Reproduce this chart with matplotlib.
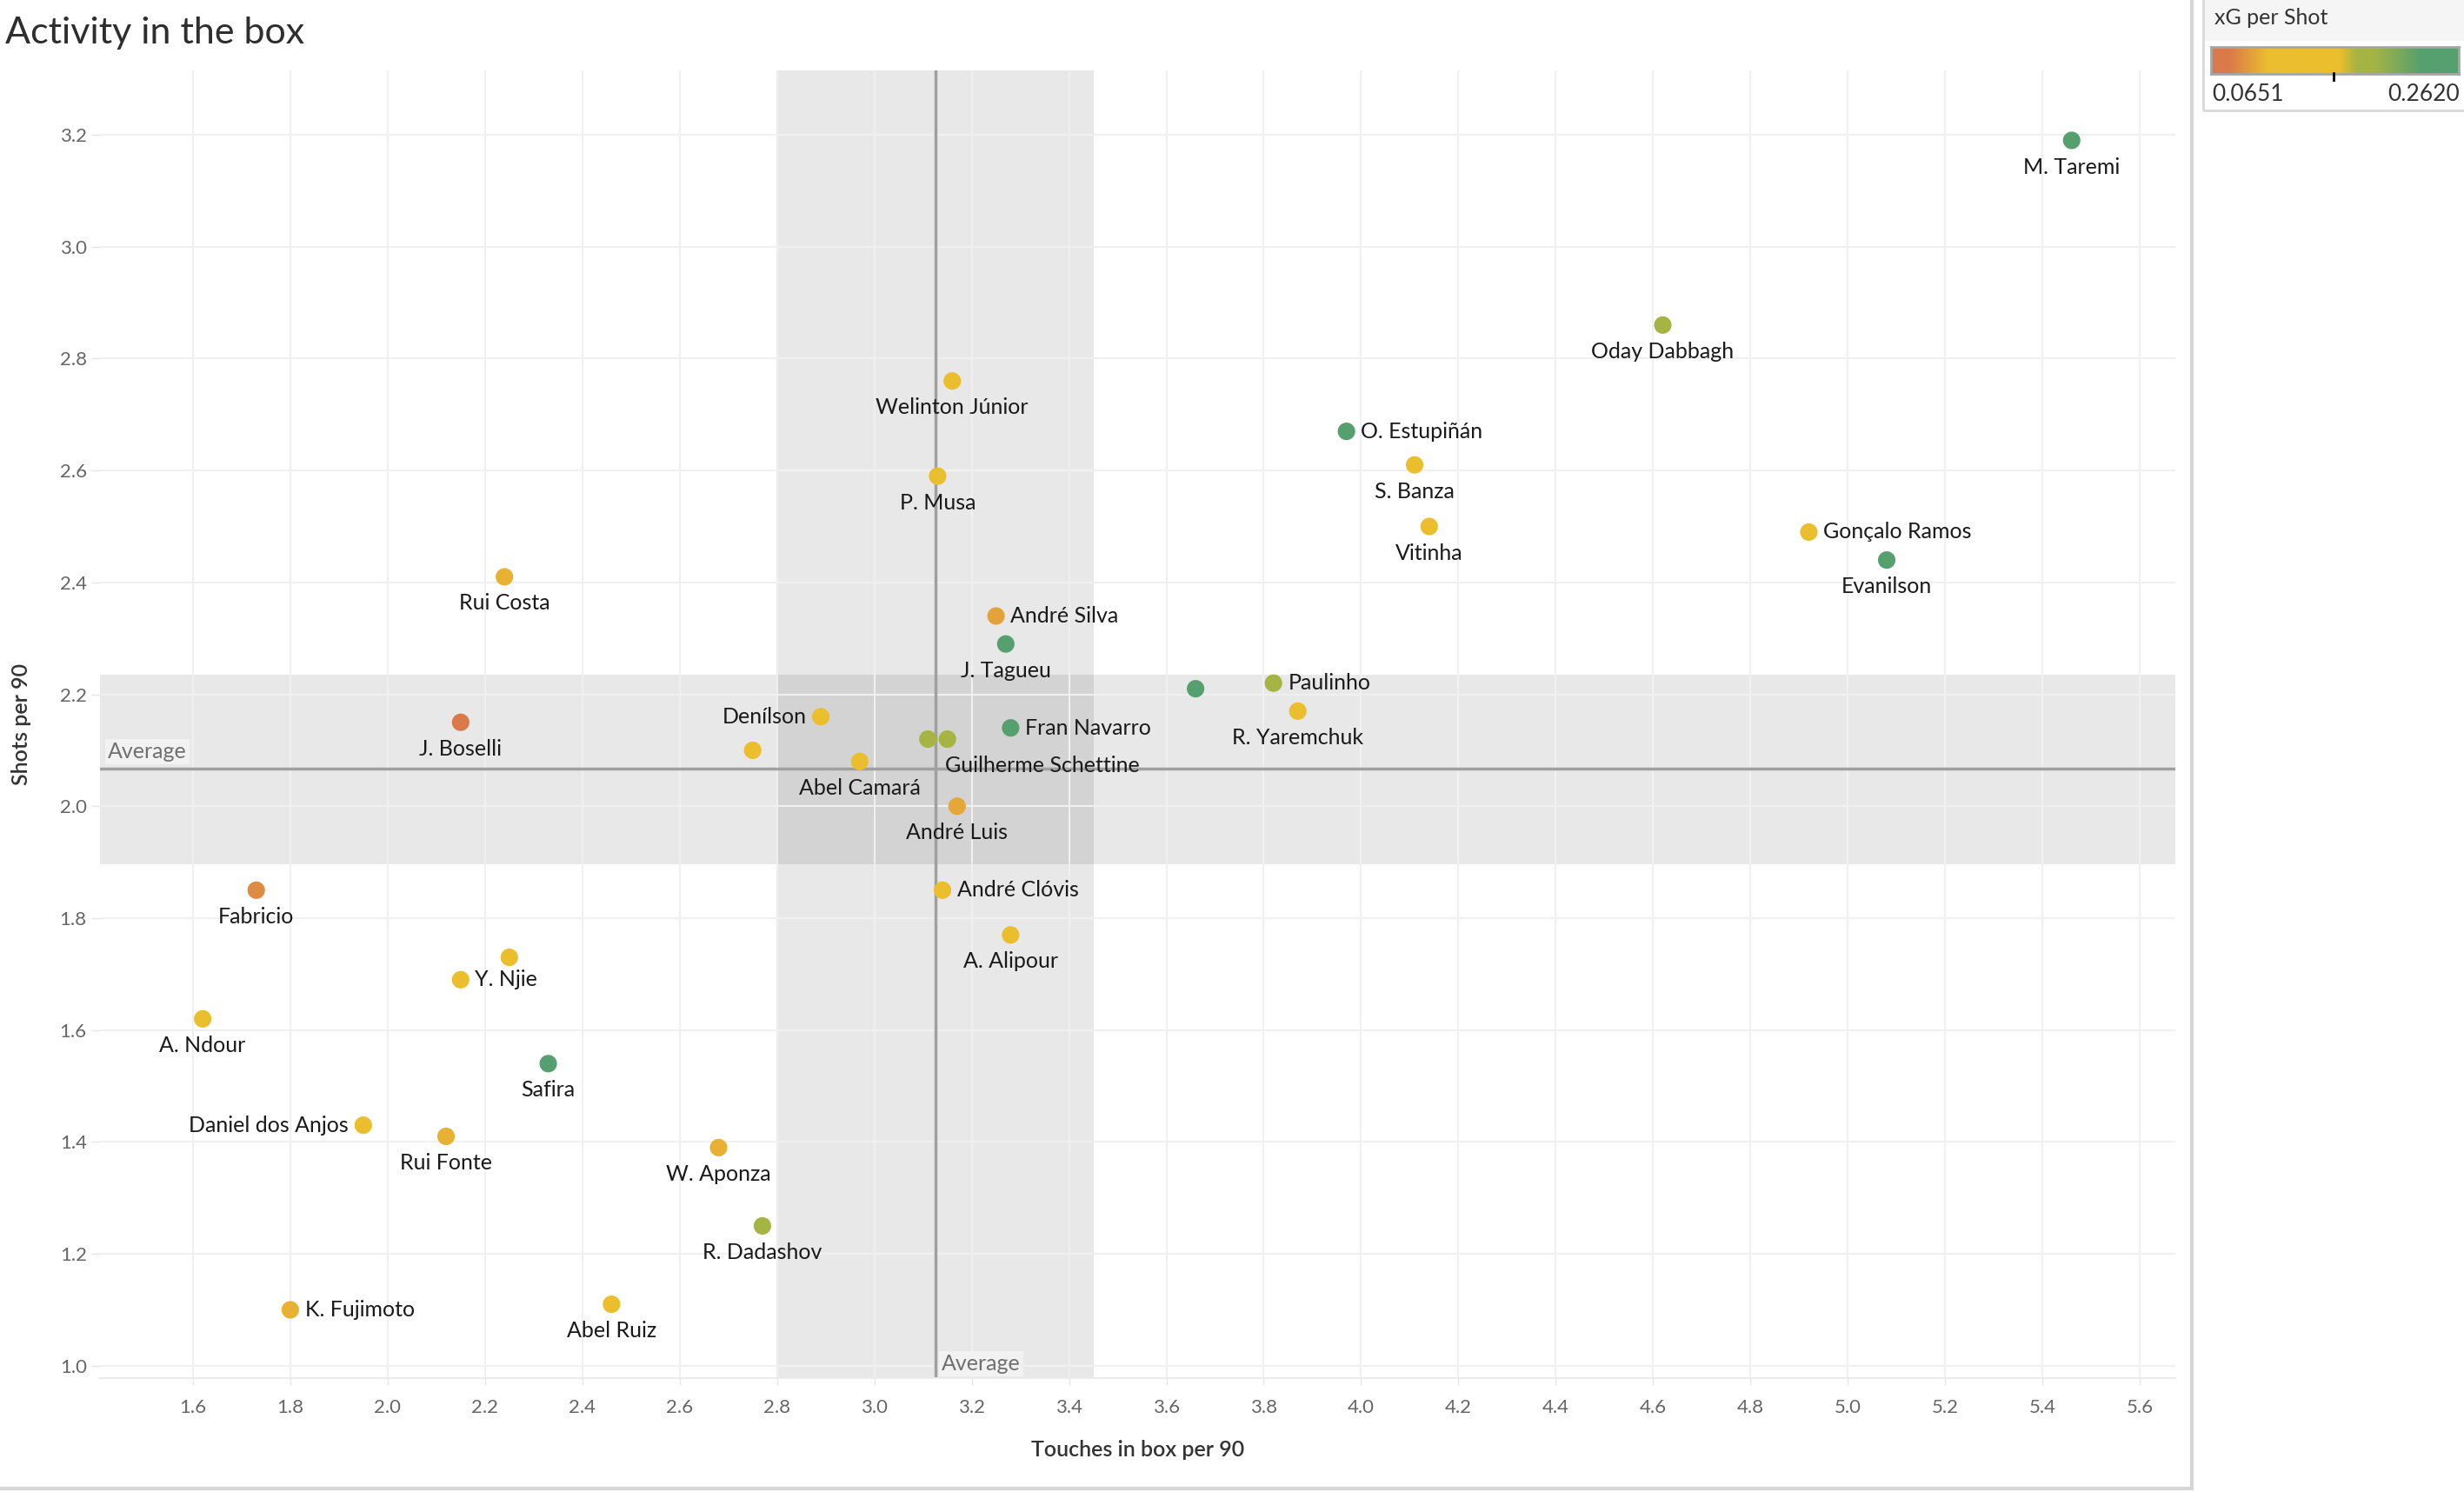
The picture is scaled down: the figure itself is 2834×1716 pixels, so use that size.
import matplotlib
matplotlib.use('Agg')
import matplotlib.pyplot as plt
from matplotlib.colors import LinearSegmentedColormap, Normalize
from matplotlib.patches import Rectangle
from matplotlib.lines import Line2D
import numpy as np

# --- data
players = ["M. Taremi", "Oday Dabbagh", "O. Estupiñán", "S. Banza", "Vitinha",
           "Gonçalo Ramos", "Evanilson", "Welinton Júnior", "P. Musa", "Rui Costa",
           "André Silva", "J. Tagueu", "", "Paulinho", "R. Yaremchuk",
           "J. Boselli", "Denílson", "", "Abel Camará", "",
           "Guilherme Schettine", "Fran Navarro", "André Luis", "André Clóvis", "A. Alipour",
           "Fabricio", "", "Y. Njie", "A. Ndour", "Safira",
           "Daniel dos Anjos", "Rui Fonte", "W. Aponza", "R. Dadashov", "K. Fujimoto",
           "Abel Ruiz"]
touches = [5.46, 4.62, 3.97, 4.11, 4.14,
           4.92, 5.08, 3.16, 3.13, 2.24,
           3.25, 3.27, 3.66, 3.82, 3.87,
           2.15, 2.89, 2.75, 2.97, 3.11,
           3.15, 3.28, 3.17, 3.14, 3.28,
           1.73, 2.25, 2.15, 1.62, 2.33,
           1.95, 2.12, 2.68, 2.77, 1.80,
           2.46]
shots = [3.19, 2.86, 2.67, 2.61, 2.50,
         2.49, 2.44, 2.76, 2.59, 2.41,
         2.34, 2.29, 2.21, 2.22, 2.17,
         2.15, 2.16, 2.10, 2.08, 2.12,
         2.12, 2.14, 2.00, 1.85, 1.77,
         1.85, 1.73, 1.69, 1.62, 1.54,
         1.43, 1.41, 1.39, 1.25, 1.10,
         1.11]
xg_per_shot = [0.255, 0.185, 0.245, 0.135, 0.135,
               0.135, 0.250, 0.130, 0.118, 0.105,
               0.098, 0.250, 0.250, 0.185, 0.130,
               0.0651, 0.130, 0.130, 0.125, 0.185,
               0.185, 0.240, 0.100, 0.120, 0.120,
               0.088, 0.130, 0.125, 0.118, 0.250,
               0.125, 0.105, 0.105, 0.185, 0.105,
               0.118]
# where each name sits: b=below, r=right, l=left, s=below shifted right
label_side = ["b", "b", "r", "b", "b",
              "r", "b", "b", "b", "b",
              "r", "b", "", "r", "b",
              "b", "l", "", "b", "",
              "s", "r", "b", "r", "b",
              "b", "", "r", "b", "b",
              "l", "b", "b", "b", "r",
              "b"]

avg_touches = 3.126
avg_shots = 2.067
band_touches = (2.80, 3.45)
band_shots = (1.897, 2.235)
xg_min, xg_max = 0.0651, 0.2620

x_ticks = [1.6, 1.8, 2.0, 2.2, 2.4, 2.6, 2.8, 3.0, 3.2, 3.4, 3.6, 3.8, 4.0, 4.2, 4.4, 4.6, 4.8, 5.0, 5.2, 5.4, 5.6]
y_ticks = [1.0, 1.2, 1.4, 1.6, 1.8, 2.0, 2.2, 2.4, 2.6, 2.8, 3.0, 3.2]

# --- style
ORANGE = '#DA7A4A'
YELLOW = '#EBBE2E'
OLIVE = '#A5B443'
GREEN = '#55A06E'
cmap = LinearSegmentedColormap.from_list(
    'xg', [(0.0, ORANGE), (0.074, ORANGE), (0.23, YELLOW), (0.52, YELLOW),
           (0.59, OLIVE), (0.66, OLIVE), (0.85, GREEN), (1.0, GREEN)])
norm = Normalize(xg_min, xg_max)

FONT = ['Lato', 'DejaVu Sans']
plt.rcParams['font.family'] = FONT

W, H = 2834, 1716
fig = plt.figure(figsize=(W / 100, H / 100), dpi=100)
fig.patch.set_facecolor('white')

def fx(px): return px / W
def fy(py): return 1 - py / H

ax = fig.add_axes([fx(115), fy(1585), fx(2502) - fx(115), fy(81) - fy(1585)])
ax.set_xlim(1.409, 5.673)
ax.set_ylim(0.978, 3.315)

# reference bands + average lines
ax.axvspan(*band_touches, color='black', alpha=0.09, lw=0, zorder=0)
ax.axhspan(*band_shots, color='black', alpha=0.09, lw=0, zorder=0)
ax.set_xticks(x_ticks)
ax.set_yticks(y_ticks)
ax.grid(True, color='#F0F0F0', lw=1.5, zorder=1)
ax.set_axisbelow(True)
ax.axvline(avg_touches, color='#A0A0A0', lw=2.5, zorder=2)
ax.axhline(avg_shots, color='#A0A0A0', lw=2.5, zorder=2)

ax.text(1.425, avg_shots + 0.012, 'Average', fontsize=18, color='#707070', va='bottom', ha='left',
        bbox=dict(boxstyle='square,pad=0.12', fc='#F2F2F2', ec='none'), zorder=3)
ax.text(avg_touches + 0.012, 0.985, 'Average', fontsize=18, color='#707070', va='bottom', ha='left',
        bbox=dict(boxstyle='square,pad=0.12', fc='#F2F2F2', ec='none'), zorder=3)

# points
ax.scatter(touches, shots, c=xg_per_shot, cmap=cmap, norm=norm, s=210, lw=0, zorder=4)

for name, x, y, side in zip(players, touches, shots, label_side):
    if not name:
        continue
    kw = dict(fontsize=18, color='#1A1A1A', textcoords='offset points', zorder=5)
    if side == 'b':
        ax.annotate(name, (x, y), xytext=(0, -22), ha='center', va='center', **kw)
    elif side == 's':
        ax.annotate(name, (x, y), xytext=(-2, -22), ha='left', va='center', **kw)
    elif side == 'r':
        ax.annotate(name, (x, y), xytext=(12, 0), ha='left', va='center', **kw)
    elif side == 'l':
        ax.annotate(name, (x, y), xytext=(-12, 0), ha='right', va='center', **kw)

# axes cosmetics
for s in ['top', 'right', 'left']:
    ax.spines[s].set_visible(False)
ax.spines['bottom'].set_color('#EBEBEB')
ax.spines['bottom'].set_linewidth(1.5)
ax.set_xticklabels([f"{v:.1f}" for v in x_ticks])
ax.set_yticklabels([f"{v:.1f}" for v in y_ticks])
ax.tick_params(axis='both', colors='#E6E6E6', labelcolor='#666666', labelsize=16, width=1)
ax.tick_params(axis='x', length=6, pad=11)
ax.tick_params(axis='y', length=7, pad=4)
ax.set_xlabel('Touches in box per 90', fontsize=18, color='#333333', fontweight='semibold', labelpad=20)
ax.set_ylabel('Shots per 90', fontsize=18, color='#333333', fontweight='semibold')
ax.yaxis.set_label_coords(fx(36 - 115) / (fx(2502) - fx(115)), 0.5)

# title
fig.text(fx(6), fy(38), 'Activity in the box', fontsize=31, color='#2E2E2E',
         ha='left', va='center')

# frame lines of the dashboard
fig.add_artist(Line2D([fx(2521), fx(2521)], [fy(1712), 1], color='#D6D6D6', lw=3))
fig.add_artist(Line2D([0, fx(2521)], [fy(1712), fy(1712)], color='#D6D6D6', lw=3))

# legend box
fig.add_artist(Rectangle((fx(2534), fy(47)), fx(300), 47 / H, transform=fig.transFigure,
                         fc='#F5F5F5', ec='none', zorder=1))
fig.add_artist(Rectangle((fx(2534), fy(127)), fx(305), 130 / H, transform=fig.transFigure,
                         fc='none', ec='#D8D8D8', lw=2, zorder=2))
fig.text(fx(2547), fy(20), 'xG per Shot', fontsize=18, color='#333333', ha='left', va='center')
cax = fig.add_axes([fx(2543), fy(85), fx(2828) - fx(2543), 31 / H])
cax.imshow(np.linspace(0, 1, 512)[None, :], cmap=cmap, aspect='auto', extent=(0, 1, 0, 1))
cax.set_xticks([])
cax.set_yticks([])
for s in cax.spines.values():
    s.set_color('#A6A6A6')
    s.set_linewidth(2)
med = fx(2543) + 0.496 * (fx(2828) - fx(2543))
fig.add_artist(Line2D([med, med], [fy(92), fy(84)], color='black', lw=2))
fig.text(fx(2544), fy(108), f"{xg_min:.4f}", fontsize=19, color='#333333', ha='left', va='center')
fig.text(fx(2829), fy(108), f"{xg_max:.4f}", fontsize=19, color='#333333', ha='right', va='center')

fig.savefig('out.png', dpi=100, facecolor='white')
